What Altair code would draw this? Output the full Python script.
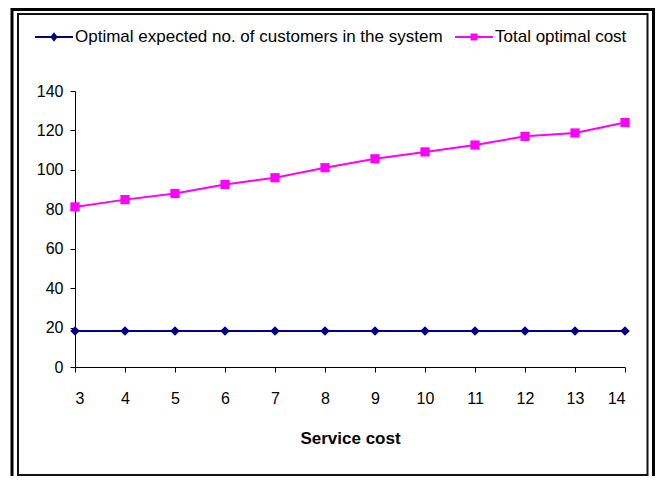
import altair as alt
import pandas as pd

service_cost = [3, 4, 5, 6, 7, 8, 9, 10, 11, 12, 13, 14]
expected_customers = [18.3, 18.3, 18.3, 18.3, 18.3, 18.3, 18.3, 18.3, 18.3, 18.3, 18.3, 18.3]
total_optimal_cost = [81.2, 84.9, 88.0, 92.6, 96.0, 101.1, 105.6, 109.1, 112.6, 117.0, 118.7, 124.0]
series_names = ["Optimal expected no. of customers in the system", "Total optimal cost"]
series_colors = ["#000080", "#FF00FF"]
y_ticks = [0, 20, 40, 60, 80, 100, 120, 140]

rows = []
for x, c, t in zip(service_cost, expected_customers, total_optimal_cost):
    rows.append({"cost": x, "series": series_names[0], "value": c})
    rows.append({"cost": x, "series": series_names[1], "value": t})
df = pd.DataFrame(rows)

FONT = "Liberation Sans"

xenc = alt.X(
    "cost:Q",
    scale=alt.Scale(domain=[3, 14], nice=False, zero=False),
    axis=alt.Axis(values=service_cost, title="Service cost", format="d",
                  labelPadding=18, titlePadding=24, titleFontWeight="bold",
                  titleFontSize=17),
)
yenc = alt.Y(
    "value:Q",
    scale=alt.Scale(domain=[0, 140], nice=False),
    axis=alt.Axis(values=y_ticks, title=None, labelPadding=7),
)

base = alt.Chart(df)

def series_layers(name, color, shape, size):
    sel = base.transform_filter(alt.datum.series == name)
    line = sel.mark_line(color=color, strokeWidth=2).encode(x=xenc, y=yenc)
    pts = sel.mark_point(shape=shape, filled=True, color=color, size=size,
                         opacity=1).encode(x=xenc, y=yenc)
    return line + pts

blue = series_layers(series_names[0], series_colors[0], "diamond", 90)
pink = series_layers(series_names[1], series_colors[1], "square", 85)

# legend-only layer (draws nothing; provides a legend from the scale domain)
legend_paths = [
    "M-1,0H1M0,-0.16L0.13,0L0,0.16L-0.13,0Z",
    "M-1,0H1M-0.13,-0.13H0.13V0.13H-0.13Z",
]
leg = alt.Legend(title=None, orient="none", legendX=-41, legendY=-74,
                 direction="horizontal", symbolSize=1444, symbolStrokeWidth=2,
                 labelFont=FONT, labelFontSize=17, labelColor="black",
                 labelOffset=1, labelLimit=600, columnPadding=8, padding=0)
legend_layer = base.transform_filter("false").mark_point(
    filled=True, opacity=1, strokeWidth=2, size=1444
).encode(
    x=xenc, y=yenc,
    fill=alt.Fill("series:N", scale=alt.Scale(domain=series_names, range=series_colors), legend=leg),
    stroke=alt.Stroke("series:N", scale=alt.Scale(domain=series_names, range=series_colors), legend=leg),
    shape=alt.Shape("series:N", scale=alt.Scale(domain=series_names, range=legend_paths), legend=leg),
)

one = alt.Data(values=[{"k": 1}])
outer_frame = alt.Chart(one).mark_rect(fill="transparent", stroke="black", strokeWidth=3).encode(
    x=alt.value(-63), x2=alt.value(578.5), y=alt.value(-81.5), y2=alt.value(397)
)
inner_frame = alt.Chart(one).mark_rect(fill="transparent", stroke="#111111", strokeWidth=2).encode(
    x=alt.value(-57), x2=alt.value(572.5), y=alt.value(-77), y2=alt.value(384)
)

chart = alt.layer(outer_frame, inner_frame, blue, pink, legend_layer).properties(
    width=550, height=276,
    padding={"left": 67, "top": 83, "right": 30, "bottom": 109},
    autosize=alt.AutoSizeParams(type="none"),
    background="white",
).configure_view(stroke=None).configure_axis(
    grid=False, labelFont=FONT, labelFontSize=16, labelColor="black",
    titleFont=FONT, titleColor="black", domainColor="black", tickColor="black",
    tickSize=5, domainWidth=1, tickWidth=1,
)

chart.save("out.html", embed_options={"renderer": "svg", "actions": False})
